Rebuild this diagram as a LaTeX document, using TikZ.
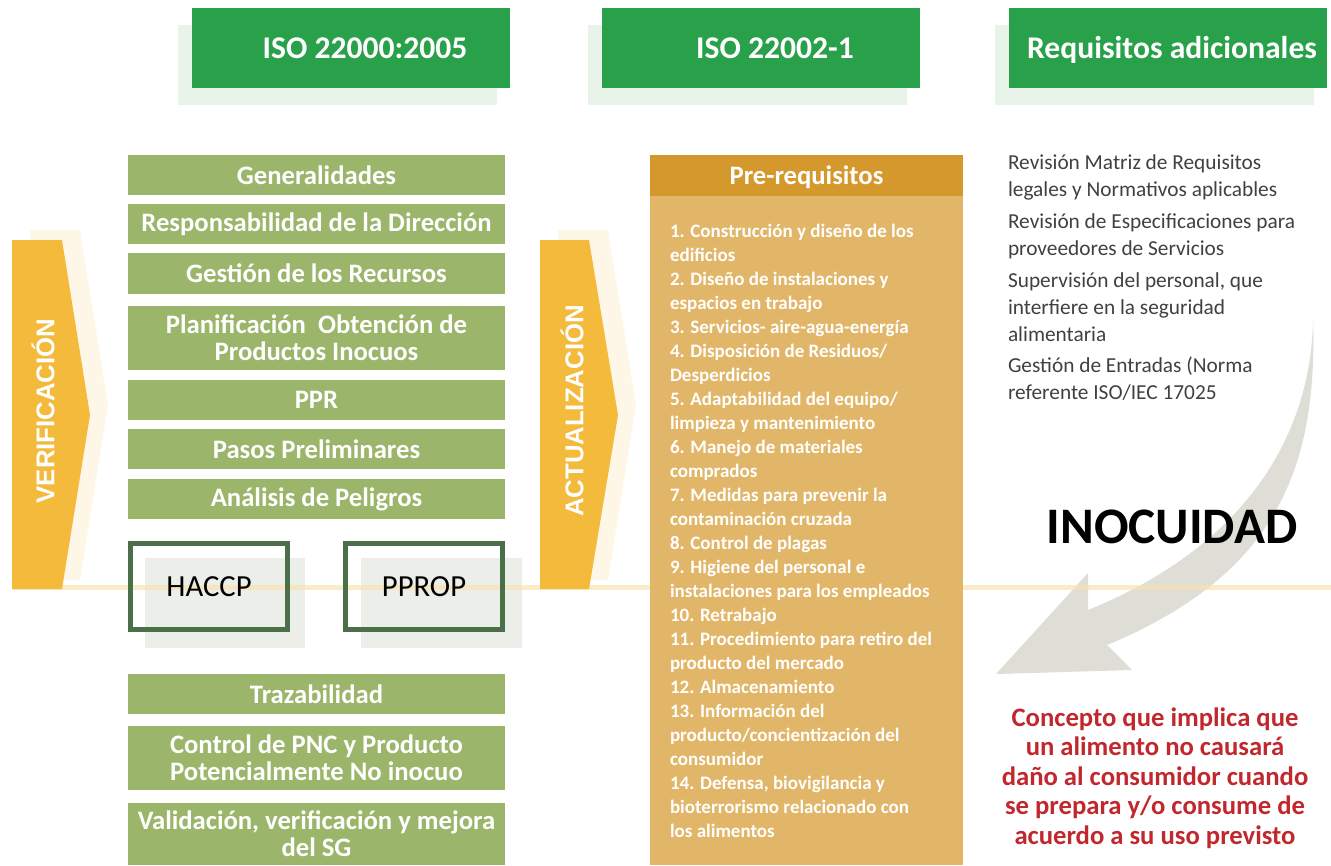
\documentclass[tikz,border=0pt]{standalone}
\usepackage{fontspec}
\setmainfont{Carlito}
\newfontfamily\chevfont{Liberation Sans}
\usepackage{tikz}
\usetikzlibrary{positioning,calc}
\definecolor{cHead}  {HTML}{28A14A}
\definecolor{cHeadSh}{HTML}{E8F3EA}
\definecolor{cOlive} {HTML}{9BB56A}
\definecolor{cFrame} {HTML}{4B6F48}
\definecolor{cGray}  {HTML}{ECEEEA}
\definecolor{cChev}  {HTML}{F3BA3C}
\definecolor{cChevSh}{HTML}{FEF7E8}
\definecolor{cPreHd} {HTML}{D5982D}
\definecolor{cPre}   {HTML}{E2B668}
\definecolor{cLine}  {HTML}{F9E2B0}
\definecolor{cArrow} {HTML}{DEDED6}
\definecolor{cRed}   {HTML}{C0282E}
\definecolor{cTxt}   {HTML}{404040}
\tikzset{
  hdr/.style   ={fill=cHead,text=white,inner sep=0pt,minimum width=238.5pt,
                 minimum height=60pt,text height=20pt,text depth=5pt,
                 font=\fontsize{23.7}{26}\selectfont\bfseries},
  gbox/.style  ={fill=cOlive,text=white,align=center,inner sep=0pt,minimum width=282.75pt,
                 font=\fontsize{20}{20.25}\selectfont\bfseries},
  frm/.style   ={draw=cFrame,line width=3.75pt,inner sep=0pt,minimum width=117.75pt,
                 minimum height=64.5pt,font=\fontsize{23}{26}\selectfont},
  chevtxt/.style={text=white,rotate=90,inner sep=0pt,
                 font=\chevfont\fontsize{19.3}{22}\selectfont\bfseries},
  phdr/.style  ={fill=cPreHd,text=white,inner sep=0pt,minimum width=234.75pt,
                 minimum height=30.75pt,text height=19pt,text depth=5pt,
                 font=\fontsize{20}{22}\selectfont\bfseries},
  plist/.style ={text=white,align=left,inner sep=0pt,
                 font=\fontsize{14.25}{18}\selectfont\bfseries},
  req/.style   ={text=cTxt,align=left,inner sep=0pt,font=\fontsize{16}{20.25}\selectfont},
  note/.style  ={text=cRed,align=center,inner sep=0pt,
                 font=\fontsize{20}{22.1}\selectfont\bfseries},
}

\begin{document}
\begin{tikzpicture}[x=0.75pt,y=-0.75pt,every node/.style={outer sep=0pt}]
\useasboundingbox (0,0) rectangle (1331,865);

% ---------------- headers -------------------------------------------------
\foreach \x in {178,588,995}{\fill[cHeadSh] (\x,25) rectangle ++(319,80);}
\node[hdr] (h1) at (351,48)  {\hspace*{21pt}ISO 22000:2005};
\node[hdr] (h2) at (761,48)  {\hspace*{21pt}ISO 22002-1};
\node[hdr] (h3) at (1168,48) {\hspace*{6pt}Requisitos adicionales};

% ---------------- chevrons, shadows, arrow, line --------------------------
\foreach \x in {0,528}{
  \fill[cChevSh] (30+\x,230) -- (80+\x,230) -- (108+\x,405) -- (80+\x,580) -- (30+\x,580) -- cycle;}
\fill[cGray] (145,558) rectangle (305,648);
\fill[cGray] (361,558) rectangle (522,648);
\fill[cArrow] (1313,318) .. controls (1318,470) and (1275,575) .. (1107,645)
  -- (1132,670) -- (996,674) -- (1088,573) -- (1088,610)
  .. controls (1260,540) and (1312,420) .. (1313,318) -- cycle;
\draw[cLine,opacity=0.7,line width=3.75pt] (12,587) -- (1331,587);
\fill[cChev] (12,240) -- (62,240) -- (90,415) -- (62,589) -- (12,589) -- cycle;
\fill[cChev] (540,240) -- (589,240) -- (618,415) -- (589,589) -- (540,589) -- cycle;
\node[chevtxt] (v) at (43,411)  {VERIFICACIÓN};
\node[chevtxt] (u) at (572,411) {ACTUALIZACIÓN};

% ---------------- ISO 22000 column ----------------------------------------
\foreach \i/\y/\h/\t in {%
  1/155/30/Generalidades,
  2/204/30/Responsabilidad de la Dirección,
  3/253/30.75/Gestión de los Recursos,
  4/306/48/{Planificación~ Obtención de\\Productos Inocuos},
  5/380/30/PPR,
  6/429/30/Pasos Preliminares,
  7/479/30/Análisis de Peligros,
  8/674/30/Trazabilidad,
  9/726/48/{Control de PNC y Producto\\Potencialmente No inocuo},
  10/803/46.5/{Validación, verificación y mejora\\del SG}}
  {\node[gbox,minimum height=\h pt,anchor=north west] (g\i) at (128,\y) {\t};}
\node[frm] (haccp) at (209,586.5) {HACCP};
\node[frm] (pprop) at (424,586.5) {PPROP};

% ---------------- ISO 22002-1 column --------------------------------------
\node[phdr,anchor=north west] (ph) at (650,155) {Pre-requisitos};
\node[fill=cPre,inner sep=0pt,minimum width=234.75pt,minimum height=501.75pt,
      anchor=north west] (pb) at (650,196) {};
\node[plist,anchor=north west] (pl) at (670,224)
  {1. Construcción y diseño de los\\ edificios\\
   2. Diseño de instalaciones y\\ espacios en trabajo\\
   3. Servicios- aire-agua-energía\\
   4. Disposición de Residuos/\\ Desperdicios\\
   5. Adaptabilidad del equipo/\\ limpieza y mantenimiento\\
   6. Manejo de materiales\\ comprados\\
   7. Medidas para prevenir la\\ contaminación cruzada\\
   8. Control de plagas\\
   9. Higiene del personal e\\ instalaciones para los empleados\\
   10. Retrabajo\\
   11. Procedimiento para retiro del\\ producto del mercado\\
   12. Almacenamiento\\
   13. Información del\\ producto/concientización del\\ consumidor\\
   14. Defensa, biovigilancia y\\ bioterrorismo relacionado con\\ los alimentos};

% ---------------- additional requirements ---------------------------------
\node[req,anchor=north west] (rq) at (1008,155)
  {Revisión Matriz de Requisitos\\ legales y Normativos aplicables\\[3.5pt]
   Revisión de Especificaciones para\\ proveedores de Servicios\\[3.5pt]
   Supervisión del personal, que\\ interfiere en la seguridad\\ alimentaria\\[3.5pt]
   Gestión de Entradas (Norma\\ referente ISO/IEC 17025};
\node[font=\fontsize{38.4}{40}\selectfont\bfseries,inner sep=0pt] (ino) at (1172,527) {INOCUIDAD};
\node[note] (def) at (1155,778)
  {Concepto que implica que\\ un alimento no causará\\ daño al consumidor cuando\\
   se prepara y/o consume de\\ acuerdo a su uso previsto};
\end{tikzpicture}
\end{document}
